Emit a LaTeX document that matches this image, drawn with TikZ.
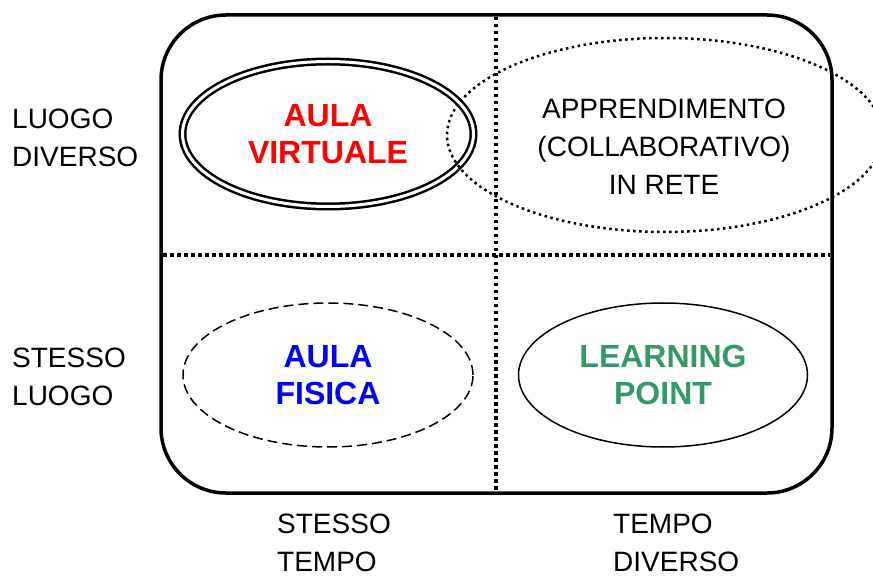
\documentclass[tikz,border=0pt]{standalone}
\usepackage{fontspec}
\setmainfont{Liberation Sans}
\usetikzlibrary{shapes.geometric}
\definecolor{lpgreen}{RGB}{51,153,102}

\begin{document}
\begin{tikzpicture}[x=1pt,y=-1pt,
    lbl/.style={align=left,anchor=base west,inner sep=0pt,font=\fontsize{28}{38}\selectfont},
    oval/.style={ellipse,inner sep=0pt,align=center,font=\fontsize{32}{37}\selectfont\bfseries},
    gridline/.style={line width=3.5pt,dash pattern=on 3.5pt off 3.5pt}]
    \useasboundingbox (0,0) rectangle (873,577);
    \coordinate (top) at (496,17);
    \coordinate (bot) at (496,491);
    \coordinate (lft) at (163,255);
    \coordinate (rgt) at (830,255);
    \draw[gridline] (top)--(bot);
    \draw[gridline] (lft)--(rgt);
    \draw[line width=3.5pt,rounded corners=65pt] (161,15) rectangle (832,493);
    \node[oval,draw,line width=2.5pt,double,double distance=3pt,minimum width=291pt,minimum height=145pt,text=red] (virt) at (328,134) {AULA\\VIRTUALE};
    \node[ellipse,draw,line width=2.5pt,dash pattern=on 2.5pt off 3.5pt,minimum width=436pt,minimum height=194pt] (rete) at (665,135) {};
    \node[oval,draw,line width=1.5pt,dash pattern=on 10pt off 5pt,minimum width=290pt,minimum height=144pt,text=blue] (fis) at (328,375) {AULA\\FISICA};
    \node[oval,draw,line width=1.5pt,minimum width=289pt,minimum height=144pt,text=lpgreen] (lp) at (663,375) {LEARNING\\POINT};
    \node[lbl,align=center,anchor=base] (reteTxt) at (664,195) {APPRENDIMENTO\\(COLLABORATIVO)\\IN RETE};
    \node[lbl] (ldiv) at (12,167) {LUOGO\\DIVERSO};
    \node[lbl] (sluo) at (12,405) {STESSO\\LUOGO};
    \node[lbl] (stem) at (277,571) {STESSO\\TEMPO};
    \node[lbl] (tdiv) at (613,571) {TEMPO\\DIVERSO};
\end{tikzpicture}
\end{document}
